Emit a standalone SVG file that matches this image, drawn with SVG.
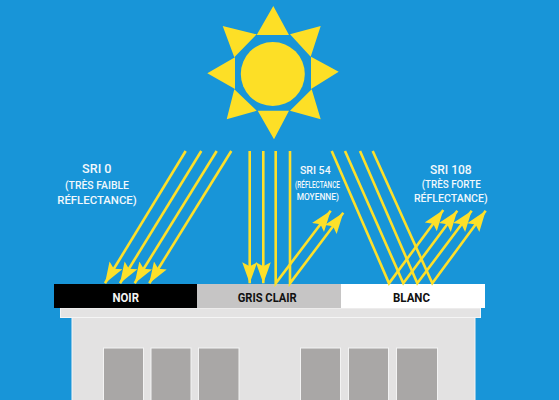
<svg xmlns="http://www.w3.org/2000/svg" width="559" height="400" viewBox="0 0 559 400">
<style>
.ray{stroke:#fde02a;stroke-width:2.600;fill:none;stroke-linejoin:miter}
.sun{fill:#fddf26}
text{font-family:"Roboto","Liberation Sans",sans-serif;font-weight:500;text-anchor:middle}
.cap{fill:#f2f8fc;font-size:11px}
.small{font-size:8.800px}
.big{font-size:12.700px}
.label{font-size:12.500px;font-weight:700}
.roof{fill:#111}
.win{fill:#a9a7a6;stroke:#f3f3f3;stroke-width:1}
</style>
<defs>
<marker id="head" markerUnits="userSpaceOnUse" markerWidth="24" markerHeight="18" refX="21" refY="8" orient="auto">
<path d="M21,8 L0,0.500 L4,8 L0,15.500 Z" fill="#fde02a"/>
</marker>
</defs>
<rect width="559" height="400" fill="#1895d8"/>
<g id="sun">
<circle class="sun" cx="272.800" cy="74" r="32"/>
<path class="sun" d="M273.300,6 L256.700,35 L289,35 Z M320.700,26 L290,34.300 L310.700,56.700 Z M338.700,71.700 L311,56.700 L311,89 Z M320.700,119.300 L290,110.700 L311.700,89.300 Z M274,139.300 L257.700,110.700 L289,110.700 Z M226.700,119.300 L234.300,89.300 L256.700,110.700 Z M207.300,73.300 L235,57.300 L235,89 Z M222.700,26 L256.700,34.300 L234.300,57.300 Z"/>
</g>
<g id="building">
<rect x="72" y="317" width="403" height="84" fill="#e3e2e2" stroke="#f5f5f5"/>
<rect x="60.500" y="308" width="420" height="9.500" fill="#e4e3e3" stroke="#f5f5f5"/>
<rect class="win" x="103.500" y="348" width="40" height="53"/>
<rect class="win" x="151" y="348" width="40" height="53"/>
<rect class="win" x="198.500" y="348" width="40.500" height="53"/>
<rect class="win" x="300.500" y="348" width="40" height="53"/>
<rect class="win" x="348.500" y="348" width="40" height="53"/>
<rect class="win" x="396.500" y="348" width="41" height="53"/>
</g>
<g id="roof-noir">
<rect x="54" y="284" width="143" height="24" fill="#000"/>
<text class="label" x="125.700" y="301.700" fill="#f4f4f4" textLength="26.500" lengthAdjust="spacingAndGlyphs">NOIR</text>
</g>
<g id="roof-gris">
<rect x="197" y="284" width="144" height="24" fill="#c6c5c5"/>
<text class="roof label" x="267.200" y="301.700" textLength="59" lengthAdjust="spacingAndGlyphs">GRIS CLAIR</text>
</g>
<g id="roof-blanc">
<rect x="341" y="284" width="144" height="24" fill="#fff"/>
<text class="roof label" x="411.500" y="301.700" textLength="37" lengthAdjust="spacingAndGlyphs">BLANC</text>
</g>
<g id="connectors">
<path class="ray" marker-end="url(#head)" d="M185.700,151 L105,283.300"/>
<path class="ray" marker-end="url(#head)" d="M201.300,151 L120,283.300"/>
<path class="ray" marker-end="url(#head)" d="M216.700,151 L134.700,283.300"/>
<path class="ray" marker-end="url(#head)" d="M231.300,151 L149.300,283.300"/>
<path class="ray" marker-end="url(#head)" d="M249.700,151 L249.700,283.300"/>
<path class="ray" marker-end="url(#head)" d="M263.300,151 L263.300,283.300"/>
<path class="ray" marker-end="url(#head)" d="M275.700,151 L275.700,283.300 L330.700,210.700"/>
<path class="ray" marker-end="url(#head)" d="M290,151 L290,283.300 L343.300,212.700"/>
<path class="ray" marker-end="url(#head)" d="M331.700,151 L389,283.300 L443.300,210"/>
<path class="ray" marker-end="url(#head)" d="M345,151 L403.300,283.300 L457.300,210.700"/>
<path class="ray" marker-end="url(#head)" d="M360,151 L417.300,283.300 L471.700,210.700"/>
<path class="ray" marker-end="url(#head)" d="M372.700,151 L432.300,283.300 L485.700,210.700"/>
</g>
<g id="captions">
<text class="cap big" x="96.800" y="173.300" textLength="29.500" lengthAdjust="spacingAndGlyphs">SRI 0</text>
<text class="cap" x="97" y="188.700" textLength="64" lengthAdjust="spacingAndGlyphs">(TRÈS FAIBLE</text>
<text class="cap" x="97" y="204" textLength="79.500" lengthAdjust="spacingAndGlyphs">RÉFLECTANCE)</text>
<text class="cap" x="315.300" y="173.700" textLength="30.700" lengthAdjust="spacingAndGlyphs">SRI 54</text>
<text class="cap small" x="317.500" y="187.700" textLength="45" lengthAdjust="spacingAndGlyphs">(RÉFLECTANCE</text>
<text class="cap small" x="317.800" y="200.300" textLength="42.300" lengthAdjust="spacingAndGlyphs">MOYENNE)</text>
<text class="cap big" x="450.800" y="173.700" textLength="41.700" lengthAdjust="spacingAndGlyphs">SRI 108</text>
<text class="cap" x="451.200" y="188" textLength="59" lengthAdjust="spacingAndGlyphs">(TRÈS FORTE</text>
<text class="cap" x="450.800" y="202" textLength="73.700" lengthAdjust="spacingAndGlyphs">RÉFLECTANCE)</text>
</g>
</svg>
